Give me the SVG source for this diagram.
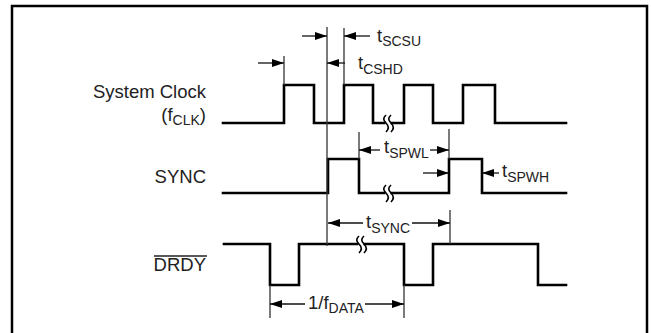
<svg xmlns="http://www.w3.org/2000/svg" width="651" height="333" viewBox="0 0 651 333">
<defs>
<style>
.frame{fill:none;stroke:#000;stroke-width:2.5}
.wave{fill:none;stroke:#000;stroke-width:2.6;stroke-linejoin:miter;stroke-linecap:square}
.ref{fill:none;stroke:#333;stroke-width:1.3}
.dim{fill:none;stroke:#111;stroke-width:1.3}
.brk{fill:none;stroke:#000;stroke-width:1.6}
.gap{fill:#fff;stroke:none}
text{font-family:"Liberation Sans",Arial,Helvetica,sans-serif;fill:#222}
.lbl{font-size:18.5px}
.sub{font-size:14px}
</style>
<marker id="ah" viewBox="0 0 12 8" refX="12" refY="4" markerWidth="12" markerHeight="8" markerUnits="userSpaceOnUse" orient="auto">
<path d="M0,0 L12,4 L0,8 Z" fill="#000"/>
</marker>
</defs>
<rect x="0" y="0" width="651" height="333" fill="#fff"/>
<rect class="frame" x="12" y="6" width="635" height="340"/>

<g id="label-clock">
<text class="lbl" x="206" y="98" text-anchor="end">System Clock</text>
<text class="lbl" x="206" y="121" text-anchor="end">(f<tspan class="sub" dy="4">CLK</tspan><tspan dy="-4">)</tspan></text>
</g>
<g id="label-sync">
<text class="lbl" x="206" y="183" text-anchor="end">SYNC</text>
</g>
<g id="label-drdy">
<text class="lbl" x="206" y="271" text-anchor="end">DRDY</text>
<line x1="154" y1="256" x2="207" y2="256" stroke="#222" stroke-width="1.3"/>
</g>

<g id="wave-clock">
<polyline class="wave" points="223,123 284,123 284,85 314,85 314,123 344,123 344,85 373,85 373,123 404,123 404,85 433,85 433,123 463,123 463,85 495,85 495,123 566,123"/>
<rect class="gap" x="385.5" y="119" width="5" height="8"/>
<path class="brk" d="M386,115 c-3,3 -3,5 0,8 c3,3 3,6 0,9"/>
<path class="brk" d="M391,115 c-3,3 -3,5 0,8 c3,3 3,6 0,9"/>
</g>

<g id="wave-sync">
<polyline class="wave" points="223,193 328,193 328,159 359,159 359,193 449,193 449,159 482,159 482,193 566,193"/>
<rect class="gap" x="385.5" y="189" width="5" height="8"/>
<path class="brk" d="M386,185 c-3,3 -3,5 0,8 c3,3 3,6 0,9"/>
<path class="brk" d="M391,185 c-3,3 -3,5 0,8 c3,3 3,6 0,9"/>
</g>

<g id="wave-drdy">
<polyline class="wave" points="224,244 270,244 270,285 299,285 299,244 404,244 404,285 433,285 433,244 538,244 538,285 566,285"/>
<rect class="gap" x="358.5" y="240" width="5" height="8"/>
<path class="brk" d="M359,236 c-3,3 -3,5 0,8 c3,3 3,6 0,9"/>
<path class="brk" d="M364,236 c-3,3 -3,5 0,8 c3,3 3,6 0,9"/>
</g>

<g id="connectors">
<line class="ref" x1="327" y1="27" x2="327" y2="246"/>
<line class="ref" x1="344" y1="28" x2="344" y2="85"/>
<line class="ref" x1="284" y1="56" x2="284" y2="85"/>
<line class="ref" x1="359" y1="132" x2="359" y2="159"/>
<line class="ref" x1="449" y1="129" x2="449" y2="159"/>
<line class="ref" x1="450" y1="210" x2="450" y2="244"/>
<line class="ref" x1="270" y1="285" x2="270" y2="318"/>
<line class="ref" x1="404" y1="285" x2="404" y2="318"/>

<line class="dim" x1="302" y1="36" x2="327" y2="36" marker-end="url(#ah)"/>
<line class="dim" x1="370" y1="36" x2="344" y2="36" marker-end="url(#ah)"/>
<line class="dim" x1="258" y1="63" x2="284" y2="63" marker-end="url(#ah)"/>
<line class="dim" x1="345" y1="63" x2="327" y2="63" marker-end="url(#ah)"/>
<line class="dim" x1="380" y1="150" x2="359" y2="150" marker-end="url(#ah)"/>
<line class="dim" x1="430" y1="150" x2="449" y2="150" marker-end="url(#ah)"/>
<line class="dim" x1="423" y1="173" x2="449" y2="173" marker-end="url(#ah)"/>
<line class="dim" x1="499" y1="173" x2="482" y2="173" marker-end="url(#ah)"/>
<line class="dim" x1="363" y1="223" x2="328" y2="223" marker-end="url(#ah)"/>
<line class="dim" x1="412" y1="223" x2="450" y2="223" marker-end="url(#ah)"/>
<line class="dim" x1="305" y1="304" x2="270" y2="304" marker-end="url(#ah)"/>
<line class="dim" x1="365" y1="304" x2="404" y2="304" marker-end="url(#ah)"/>
</g>

<g id="timing-labels">
<text class="lbl" x="377" y="42">t<tspan class="sub" dy="4">SCSU</tspan></text>
<text class="lbl" x="358" y="69">t<tspan class="sub" dy="5">CSHD</tspan></text>
<text class="lbl" x="384" y="153">t<tspan class="sub" dy="5">SPWL</tspan></text>
<text class="lbl" x="502" y="177">t<tspan class="sub" dy="5">SPWH</tspan></text>
<text class="lbl" x="366" y="228">t<tspan class="sub" dy="5">SYNC</tspan></text>
<text class="lbl" x="308" y="309">1/f<tspan class="sub" dy="4">DATA</tspan></text>
</g>
</svg>
